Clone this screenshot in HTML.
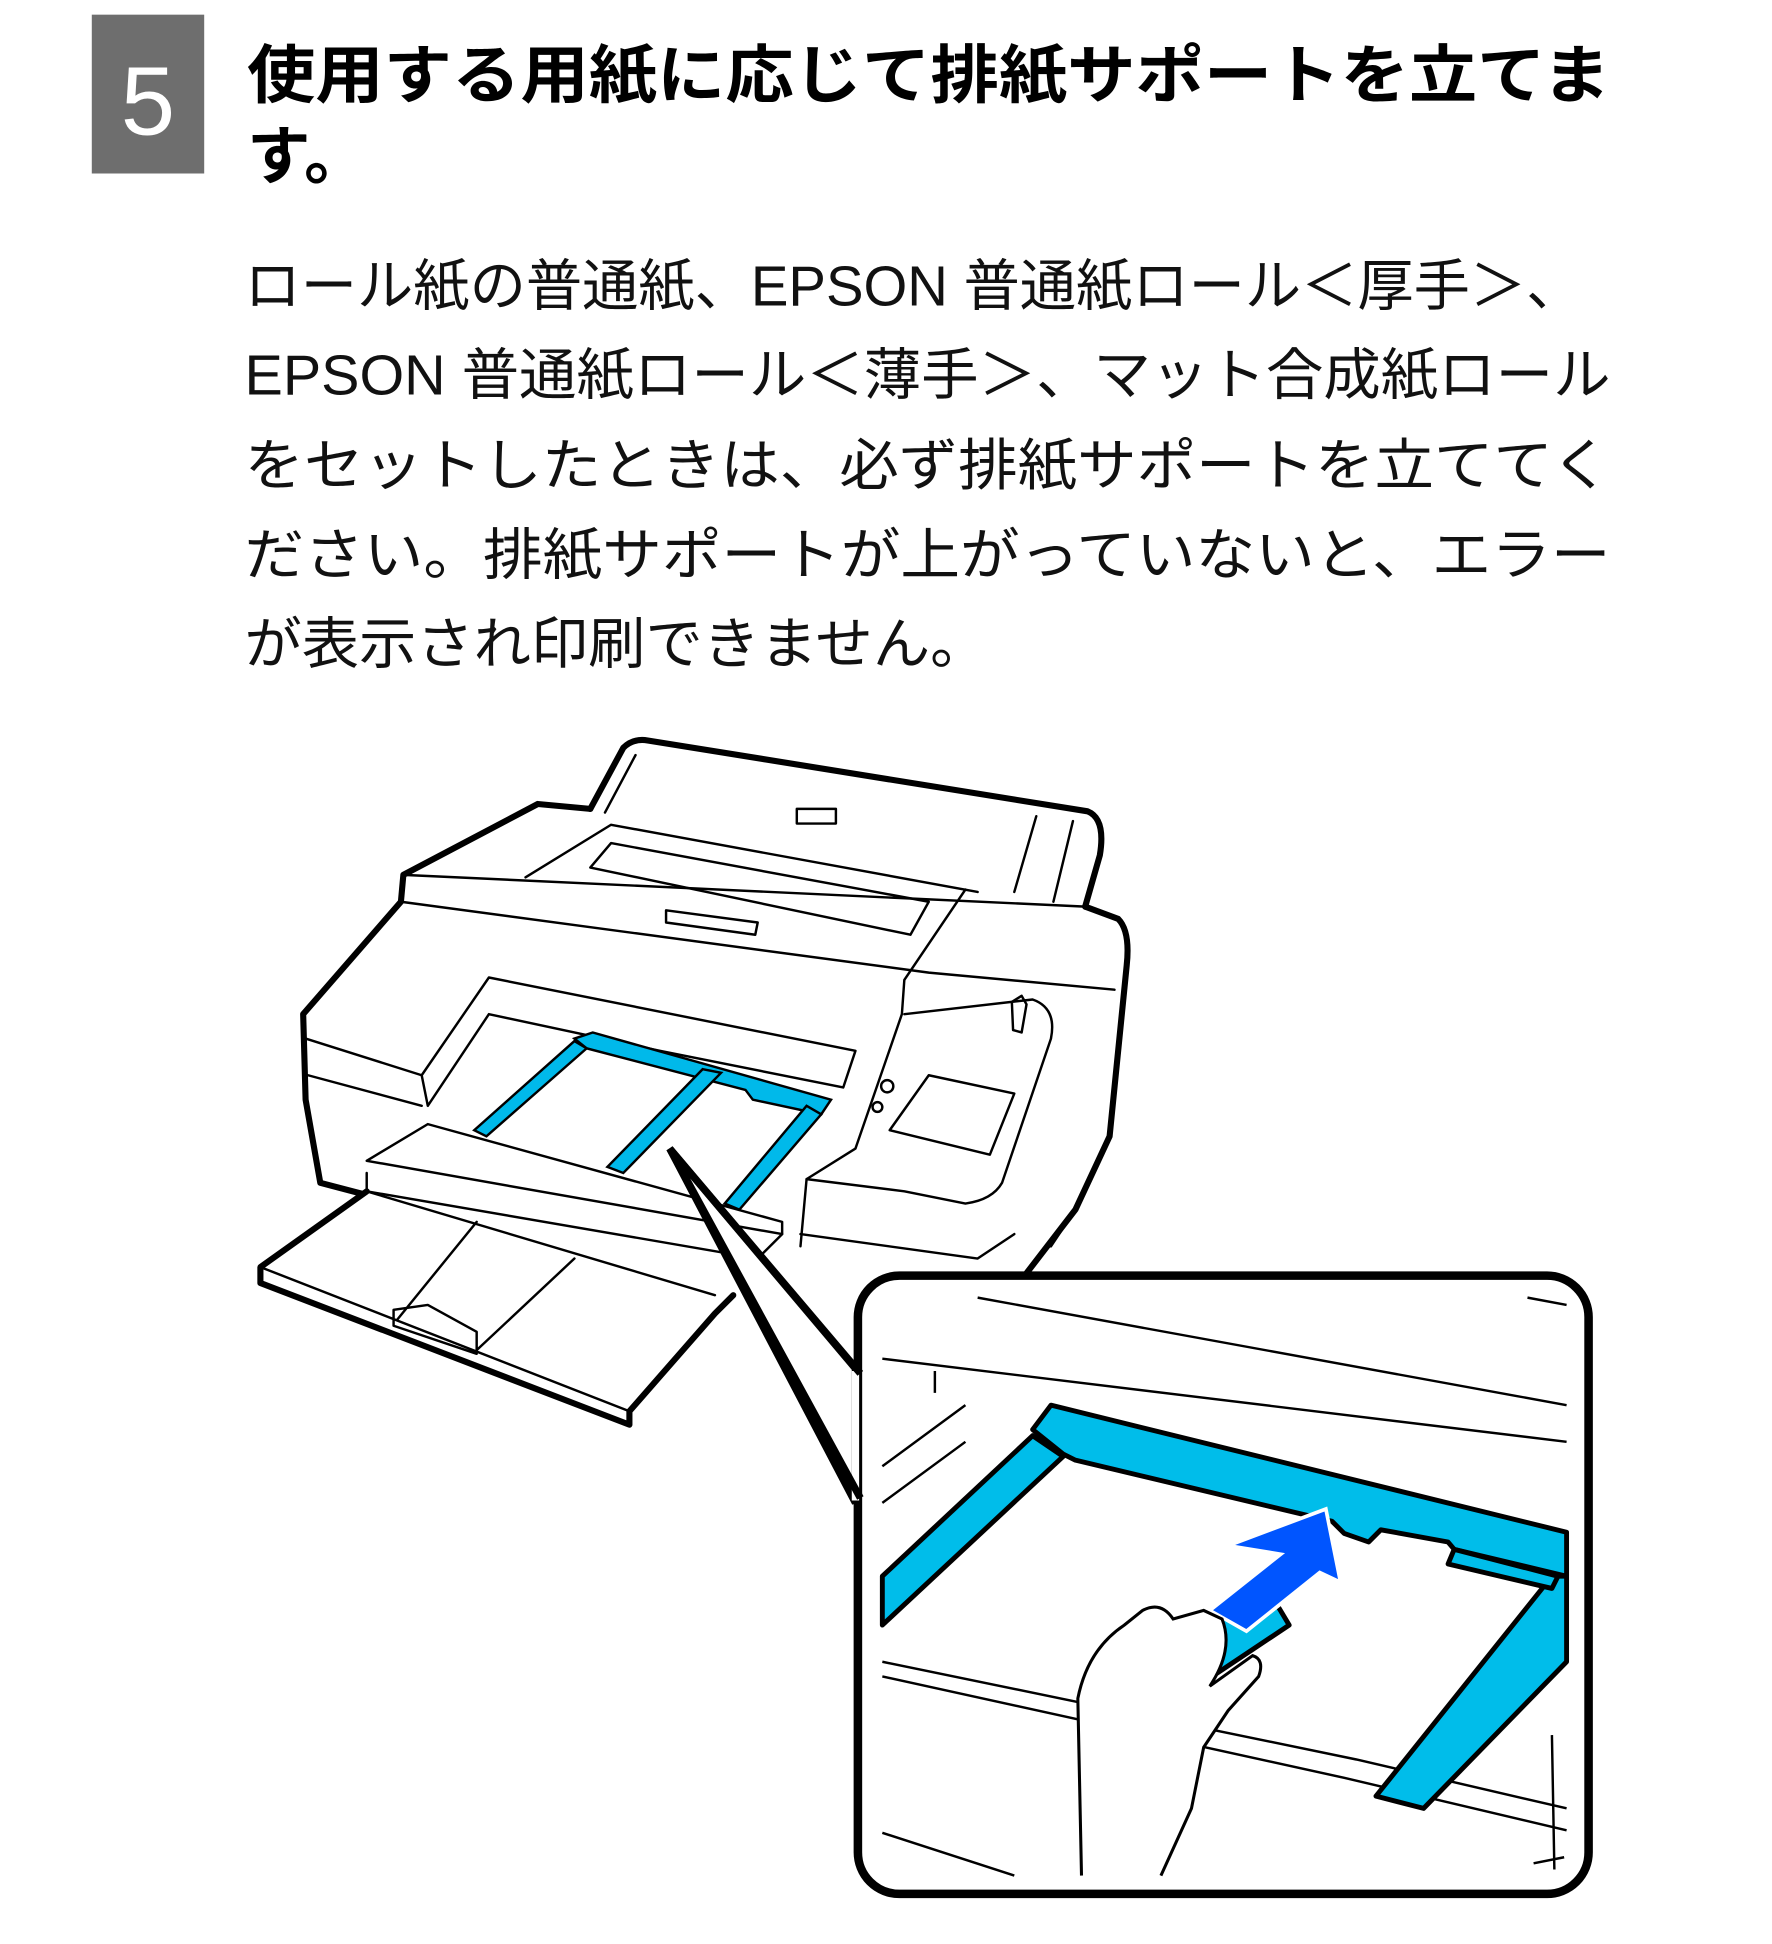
<!DOCTYPE html>
<html><head><meta charset="utf-8"><style>
html,body{margin:0;padding:0;background:#fff;}
svg{display:block;}
text{font-family:"Liberation Sans","Noto Sans CJK JP",sans-serif;}
</style></head><body>
<svg width="1772" height="1944" viewBox="0 0 1450 1591" xmlns="http://www.w3.org/2000/svg">
<rect x="75" y="12" width="92" height="130" fill="#6e6e6e"/>
<text x="121" y="110" font-size="80" fill="#fff" text-anchor="middle">5</text>
<text x="202" y="80" font-size="52" font-weight="bold" textLength="1116" lengthAdjust="spacingAndGlyphs">使用する用紙に応じて排紙サポートを立てま</text>
<text x="202" y="146" font-size="52" font-weight="bold">す。</text>
<g font-size="46" fill="#111">
<text x="200" y="250" textLength="1095" lengthAdjust="spacingAndGlyphs">ロール紙の普通紙、EPSON 普通紙ロール＜厚手＞、</text>
<text x="200" y="323" textLength="1118" lengthAdjust="spacingAndGlyphs">EPSON 普通紙ロール＜薄手＞、マット合成紙ロール</text>
<text x="200" y="397" textLength="1118" lengthAdjust="spacingAndGlyphs">をセットしたときは、必ず排紙サポートを立ててく</text>
<text x="200" y="470" textLength="1118" lengthAdjust="spacingAndGlyphs">ださい。排紙サポートが上がっていないと、エラー</text>
<text x="200" y="543" textLength="608" lengthAdjust="spacingAndGlyphs">が表示され印刷できません。</text>
</g>
<g fill="none" stroke="#000" stroke-linejoin="round" stroke-linecap="round">
<path d="M483 662 L510 612 Q518 604 530 606 L890 664 Q905 670 900 700 L888 742" stroke-width="5" fill="#fff"/>
<path d="M495 665 L520 618 M848 668 L830 730 M878 672 L862 738" stroke-width="2"/>
<rect x="652" y="662" width="32" height="12" stroke-width="2"/>
<path d="M330 716 L440 658 L483 662 M330 716 L328 738 L248 830 L250 900 L262 968 L300 978" stroke-width="5" fill="none"/>
<path d="M888 742 L915 752 Q925 762 922 790 L908 930 L880 990 L840 1042" stroke-width="5"/>
<path d="M330 716 L888 742 M430 718 L500 675 L800 730 M328 738 L760 796 L912 810 M250 850 L345 880 M252 880 L345 905" stroke-width="2"/>
<path d="M483 710 L500 690 L760 738 L745 765 Z M545 745 L620 755 L618 765 L545 755 Z" stroke-width="2"/>
<path d="M790 728 L740 802 L738 830 L700 940 L660 965 L655 1020" stroke-width="2"/>
<path d="M345 880 L400 800 L700 860 L690 890 L540 860 L400 830 L350 905 Z" stroke-width="2"/>
<path d="M740 830 L845 818 Q865 825 860 850 L820 968 Q812 982 790 985 L740 975 L660 965" stroke-width="2"/>
<path d="M760 880 L830 895 L810 945 L728 925 Z" stroke-width="2"/>
<circle cx="726" cy="889" r="5" stroke-width="2"/><circle cx="718" cy="906" r="4" stroke-width="2"/>
<path d="M828 820 L836 815 L840 822 L836 845 L829 843 Z" stroke-width="2"/>
<path d="M655 1010 L800 1030 L830 1010 M880 990 L860 1020" stroke-width="2"/>
<path d="M350 920 L640 1000 L640 1010 L300 950 Z" stroke-width="2"/>
<path d="M300 960 L300 975 L620 1030 L640 1010" stroke-width="2"/>
<path d="M300 975 L213 1037 L213 1050 L515 1166 L515 1155 L585 1075 L600 1060" stroke-width="5" fill="#fff"/>
<path d="M213 1037 L515 1155 M300 975 L585 1060 M325 1080 L390 1000 M390 1105 L470 1030 M322 1072 L350 1068 L390 1090 L390 1108 L322 1085 Z" stroke-width="2"/>
</g>
<g fill="#00b9ea" stroke="#000" stroke-width="2">
<path d="M470 850 L485 845 L680 900 L672 912 L616 900 L610 892 L480 858 Z"/>
<path d="M470 852 L480 858 L398 930 L388 925 Z"/>
<path d="M575 875 L590 878 L510 960 L497 955 Z"/>
<path d="M660 905 L672 912 L605 990 L593 985 Z"/>
</g>
<path d="M548 940 L700 1120 L700 1230 Z" fill="#fff" stroke="#000" stroke-width="6" stroke-linejoin="miter"/>
<rect x="702" y="1044" width="598" height="506" rx="34" fill="#fff" stroke="#000" stroke-width="7"/>
<path d="M700 1122 L700 1228" stroke="#fff" stroke-width="6"/>
<path d="M548 940 L704 1124 M548 940 L704 1226" stroke="#000" stroke-width="6" fill="none"/>
<g fill="none" stroke="#000" stroke-width="2">
<path d="M800 1062 L1282 1150 M722 1112 L1282 1180 M1250 1062 L1282 1068"/>
<path d="M722 1360 L1110 1440 L1282 1480 M722 1372 L1100 1455 L1282 1498 M722 1500 L830 1535"/>
<path d="M722 1200 L790 1150 M722 1230 L790 1180 M765 1122 L765 1140"/>
<path d="M1270 1420 L1272 1530 M1255 1525 L1280 1520"/>
</g>
<g fill="#00bdea" stroke="#000" stroke-width="4" stroke-linejoin="round">
<path d="M860 1150 L1282 1254 L1282 1290 L1190 1268 L1185 1262 L1130 1252 L1120 1262 L1100 1255 L1090 1245 L880 1195 L870 1190 L845 1170 Z"/>
<path d="M722 1290 L845 1175 L870 1192 L722 1330 Z"/>
<path d="M1270 1290 L1282 1290 L1282 1360 L1165 1480 L1126 1470 Z" />
<path d="M1190 1268 L1275 1290 L1270 1300 L1185 1280 Z"/>
<path d="M965 1390 L985 1330 L1040 1305 L1055 1330 Z"/>
</g>
<path d="M1085 1235 L1097 1295 L1080 1287 L1020 1335 L990 1318 L1048 1272 L1005 1265 Z" fill="#0055ff" stroke="#fff" stroke-width="3"/>
<path d="M885 1535 L882 1390 Q890 1350 920 1330 L935 1318 Q950 1310 960 1325 L985 1318 L1000 1325 Q1010 1350 990 1380 L1025 1355 Q1035 1358 1030 1372 L1005 1400 L985 1430 L975 1480 L950 1535" fill="#fff" stroke="#000" stroke-width="2.5"/>
</svg>
</body></html>
